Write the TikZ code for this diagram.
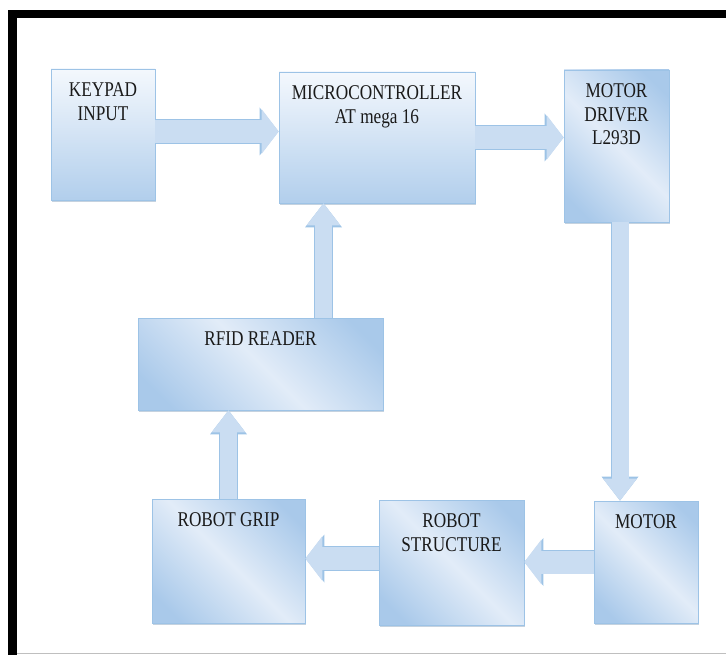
\documentclass[tikz,border=0pt]{standalone}
\usepackage{fontspec}
\setmainfont{Liberation Serif}
\usetikzlibrary{arrows.meta,shadows}

\definecolor{boxedge}{HTML}{9DC3E6}
\definecolor{boxdark}{HTML}{A9C9EA}
\definecolor{boxlight}{HTML}{E2ECF8}
\definecolor{boxtop}{HTML}{F4F8FD}
\definecolor{arrowfill}{HTML}{CADDF2}
\definecolor{textgray}{HTML}{1A1A1A}

\pgfdeclarehorizontalshading{diagshade}{100bp}{color(0bp)=(boxdark); color(22bp)=(boxdark); color(50bp)=(boxlight); color(78bp)=(boxdark); color(100bp)=(boxdark)}

\newcommand{\boxfont}{\rmfamily\fontsize{21}{23.5}\selectfont}

\begin{document}
\begin{tikzpicture}[x=1pt,y=-1pt,
  box/.style={rectangle,draw=boxedge,line width=0.8pt,inner sep=0pt,
    shading=diagshade,shading angle=45,
    drop shadow={shadow xshift=0.6pt,shadow yshift=-2.4pt,fill=boxedge!80!black,opacity=0.45}},
  topbox/.style={box,top color=boxtop,bottom color=boxdark!90},
  lbl/.style={anchor=north,inner sep=0pt,yshift=-14pt,align=center,
    font=\boxfont,text=textgray,xscale=0.82,transform shape},
  harrow/.style={draw=arrowfill,line width=23pt,
    -{Triangle[length=17pt,width=45pt,line width=0pt]},
    preaction={draw=boxedge,line width=24.6pt,
      -{Triangle[length=19pt,width=48pt,line width=0pt]}}},
  varrow/.style={draw=arrowfill,line width=17pt,
    -{Triangle[length=22pt,width=34pt,line width=0pt]},
    preaction={draw=boxedge,line width=18.6pt,
      -{Triangle[length=24pt,width=37pt,line width=0pt]}}}]

  \useasboundingbox (0,0) rectangle (726,655);

  % frame
  \draw[line width=8.5pt] (726,14) -- (12.5,14) -- (12.5,655);
  \draw[black!25,line width=1pt] (17,653) -- (726,653);

  % blocks
  \node[topbox,minimum width=104pt,minimum height=131pt,
    label={[lbl]north:{KEYPAD\\INPUT}}] (kp) at (103,134.5) {};
  \node[topbox,minimum width=196pt,minimum height=131pt,
    label={[lbl]north:{MICROCONTROLLER\\AT mega 16}}] (mc) at (377,137.5) {};
  \node[box,minimum width=105pt,minimum height=152pt,
    label={[lbl]north:{MOTOR\\DRIVER\\L293D}}] (md) at (616.5,146) {};
  \node[box,minimum width=245pt,minimum height=92pt,
    label={[lbl]north:{RFID READER}}] (rf) at (260.5,364) {};
  \node[box,minimum width=153pt,minimum height=124pt,
    label={[lbl]north:{ROBOT GRIP}}] (rg) at (228.5,561) {};
  \node[box,minimum width=145pt,minimum height=125pt,
    label={[lbl]north:{ROBOT\\STRUCTURE}}] (rs) at (451.5,562.5) {};
  \node[box,minimum width=104pt,minimum height=122pt,
    label={[lbl]north:{MOTOR}}] (mo) at (646,562) {};

  % block arrows
  \path
    ([yshift=3pt]kp.east) edge[harrow] ([yshift=3pt]kp.east -| mc.west)
    (mc.east) edge[harrow] (mc.east -| md.west)
    ([xshift=3.5pt]md.south) edge[varrow] ([xshift=3.5pt]md.south |- mo.north)
    (mo.west) edge[harrow] (mo.west -| rs.east)
    ([yshift=4pt]rs.west) edge[harrow] ([yshift=4pt]rs.west -| rg.east)
    (rg.north) edge[varrow] (rg.north |- rf.south)
    ([xshift=63pt]rf.north) edge[varrow] ([xshift=63pt]rf.north |- mc.south)
    ;
\end{tikzpicture}
\end{document}
